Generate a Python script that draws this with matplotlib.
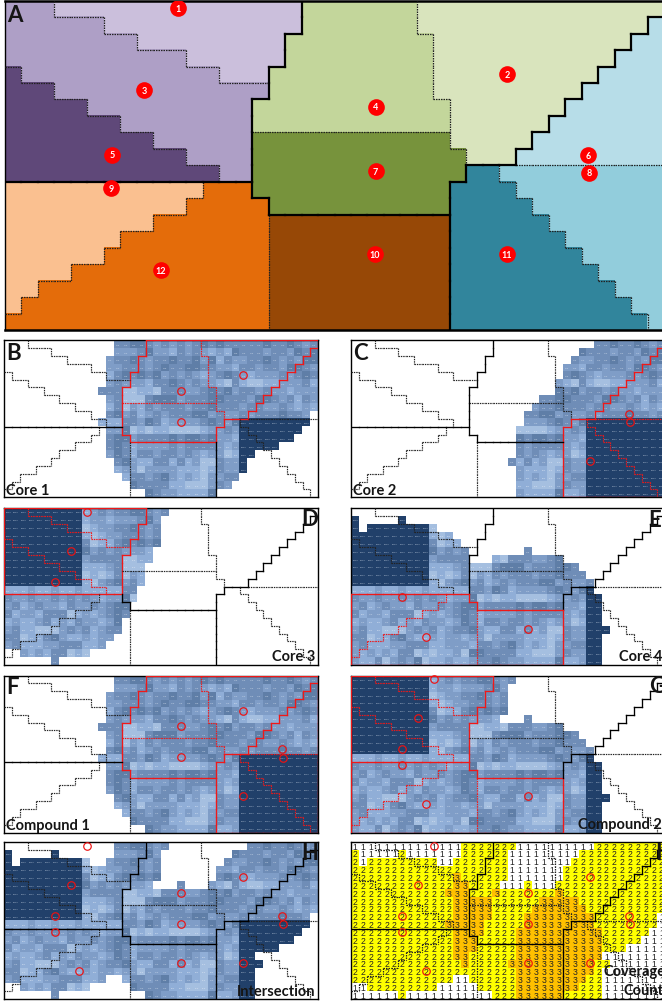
import numpy as np
import matplotlib
matplotlib.use('Agg')
import matplotlib.pyplot as plt
from matplotlib.collections import LineCollection
from matplotlib.colors import ListedColormap

plt.rcParams['font.family'] = ['Lato', 'DejaVu Sans']

W, H = 662, 1004
NCOL, NROW = 40, 20

# DATA
# zone map, one list per row: (zone, column where the zone stops)
ZONE_RUNS = [
    [(3, 3), (1, 18), (4, 25), (2, 40)],
    [(3, 6), (1, 18), (4, 25), (2, 39), (6, 40)],
    [(3, 8), (1, 17), (4, 26), (2, 38), (6, 40)],
    [(3, 11), (1, 17), (4, 26), (2, 37), (6, 40)],
    [(5, 1), (3, 13), (1, 16), (4, 26), (2, 36), (6, 40)],
    [(5, 3), (3, 16), (4, 26), (2, 35), (6, 40)],
    [(5, 5), (3, 15), (4, 27), (2, 34), (6, 40)],
    [(5, 7), (3, 15), (4, 27), (2, 33), (6, 40)],
    [(5, 9), (3, 15), (7, 27), (2, 32), (6, 40)],
    [(5, 11), (3, 15), (7, 28), (2, 31), (6, 40)],
    [(5, 13), (3, 15), (7, 28), (11, 30), (8, 40)],
    [(9, 12), (12, 15), (7, 27), (11, 31), (8, 40)],
    [(9, 11), (12, 16), (7, 27), (11, 32), (8, 40)],
    [(9, 9), (12, 16), (10, 27), (11, 33), (8, 40)],
    [(9, 7), (12, 16), (10, 27), (11, 34), (8, 40)],
    [(9, 6), (12, 16), (10, 27), (11, 35), (8, 40)],
    [(9, 4), (12, 16), (10, 27), (11, 36), (8, 40)],
    [(9, 2), (12, 16), (10, 27), (11, 37), (8, 40)],
    [(9, 1), (12, 16), (10, 27), (11, 38), (8, 40)],
    [(12, 16), (10, 27), (11, 39), (8, 40)],
]
ZONE_COLORS = ['#ffffff', '#cbbfdc', '#d9e4bd', '#ae9fc6', '#c3d69b', '#5f4879', '#b7dde8',
               '#77933c', '#92cddc', '#fac090', '#974806', '#31859c', '#e46c0a']
ZONE_X = [10.49, 30.46, 8.46, 22.49, 6.49, 35.40, 22.49, 35.46, 6.44, 22.46, 30.46, 9.46]
ZONE_Y = [0.46, 4.48, 5.45, 6.44, 9.37, 9.39, 10.36, 10.46, 11.39, 15.39, 15.39, 16.38]
# boundaries drawn dotted in the maps, all the others are solid
DOTTED_PAIRS = [(1, 3), (3, 5), (2, 4), (4, 7), (2, 7), (6, 8), (8, 11), (9, 12), (10, 12)]

# cell levels, 0 lightest, 5 darkest, 9 the navy cells
LEVELS = [
    '9999999999123233443232323434333334334323',
    '9999999999122122234221323212143332332434',
    '9999999999012233432334334241322334323244',
    '9999999999101223332343344332213323324432',
    '9999999999301134343423232123432122232343',
    '9999999999423232221334323221031001122231',
    '9999999999233330011033322343423323221222',
    '9999999999111230003444233344333244323132',
    '9999999999010130213233323343332332232121',
    '9999999999102342312323334423223233343323',
    '1112112112111113324312222343249999999999',
    '3223223232321224010110000122329999999999',
    '2312322132232344233334344342219999999999',
    '3122133301212343122223233332129999999999',
    '1211231213221243133233232122019999999999',
    '2311000232312334211331312003229999999999',
    '3301134211212212202222111013229999999999',
    '2311122333112221332342121022339999999999',
    '2121213301011204433331100023229999999999',
    '2113023240112112334322111141129999999999',
]
LEVEL_COLORS = ['#a5bfe0', '#90aed7', '#7f9dc7', '#6f8db7', '#5f7ea7', '#4f6f97']
NAVY = '#21406a'
LEVEL_VALUES = {'0': 71.8, '1': 73.5, '2': 75.2, '3': 76.9, '4': 78.3, '5': 79.6, '9': 205.4}

# covered cells of each core, one list per row: (first column, stop column)
CORE1 = [[(14, 40)], [(14, 40)], [(13, 40)], [(13, 40)], [(13, 40)], [(13, 40)], [(12, 40)],
         [(13, 40)], [(13, 40)], [(13, 39)], [(12, 39)], [(13, 38)], [(13, 37)], [(13, 35)],
         [(13, 32)], [(14, 31)], [(14, 31)], [(15, 30)], [(16, 29)], [(18, 27)]]
CORE2 = [[(31, 40)], [(29, 40)], [(28, 40)], [(27, 40)], [(27, 40)], [(26, 40)], [(26, 40)],
         [(24, 40)], [(23, 40)], [(22, 40)], [(22, 40)], [(21, 40)], [(21, 40)], [(21, 40)],
         [(21, 40)], [(20, 40)], [(21, 40)], [(21, 40)], [(21, 40)], [(21, 40)]]
CORE3 = [[(0, 21)], [(0, 20)], [(0, 20)], [(0, 20)], [(0, 20)], [(0, 19)], [(0, 19)],
         [(0, 18)], [(0, 18)], [(0, 18)], [(0, 17)], [(0, 17)], [(0, 16)], [(0, 16)],
         [(0, 15)], [(0, 15)], [(0, 14)], [(0, 13)], [(2, 11)], [(6, 7)]]
CORE4 = [[], [(0, 1), (6, 7)], [(0, 1), (2, 11)], [(0, 13)], [(0, 14)], [(0, 15), (22, 23)],
         [(0, 15), (18, 27)], [(0, 29)], [(0, 30)], [(0, 31)], [(0, 31)], [(0, 32)], [(0, 32)],
         [(0, 32)], [(0, 32)], [(0, 33)], [(0, 32)], [(0, 32)], [(0, 32)], [(0, 32)]]
COUNT_COLORS = ['#ffffff', '#ffffff', '#ffff00', '#ffc000']


# CUSTOM FUNCTIONS
def px_axes(fig, x0, y0, x1, y1):
    # makes an axes from a pixel box measured from the top left of the image
    ax = fig.add_axes([x0 / W, 1 - y1 / H, (x1 - x0) / W, (y1 - y0) / H])
    ax.set_xlim(0, NCOL)
    ax.set_ylim(NROW, 0)
    ax.set_xticks([])
    ax.set_yticks([])
    ax.set_facecolor('white')
    return ax


def zone_grid():
    grid = np.zeros((NROW, NCOL), dtype=int)
    for r, runs in enumerate(ZONE_RUNS):
        start = 0
        for zone, stop in runs:
            grid[r, start:stop] = zone
            start = stop
    return grid


def core_mask(core):
    mask = np.zeros((NROW, NCOL), dtype=bool)
    for r, runs in enumerate(core):
        for start, stop in runs:
            mask[r, start:stop] = True
    return mask


def boundary_segments(grid):
    # returns every cell edge between two zones, with the two zones on its sides
    pad = np.zeros((NROW + 2, NCOL + 2), dtype=int)
    pad[1:-1, 1:-1] = grid
    segs = []
    for r in range(NROW + 1):
        for c in range(NCOL):
            a, b = pad[r, c + 1], pad[r + 1, c + 1]
            if a != b:
                segs.append(([(c, r), (c + 1, r)], a, b))
    for r in range(NROW):
        for c in range(NCOL + 1):
            a, b = pad[r + 1, c], pad[r + 1, c + 1]
            if a != b:
                segs.append(([(c, r), (c, r + 1)], a, b))
    return segs


def is_dotted(a, b):
    return (min(a, b), max(a, b)) in DOTTED_PAIRS


def draw_boundaries(ax, segs, selected, solid_lw, dot_lw):
    groups = {}
    for seg, a, b in segs:
        if (a == 0 or b == 0) and not (a in selected or b in selected):
            continue
        red = a in selected or b in selected
        key = (red, is_dotted(a, b))
        groups.setdefault(key, []).append(seg)
    for (red, dotted), lines in groups.items():
        color = '#f01818' if red else ('#222222' if dotted else 'black')
        if dotted:
            lc = LineCollection(lines, colors=color, linewidths=dot_lw, linestyles=[(0, (1.2, 0.8))], zorder=3)
        else:
            lc = LineCollection(lines, colors=color, linewidths=solid_lw, capstyle='projecting', zorder=3)
        ax.add_collection(lc)


def draw_heat(ax, mask):
    cmap = ListedColormap(LEVEL_COLORS + [NAVY])
    cells = np.array([[min(int(ch), 6) for ch in row] for row in LEVELS])
    ax.imshow(np.ma.masked_where(~mask, cells), cmap=cmap, vmin=-0.5, vmax=6.5, extent=(0, NCOL, NROW, 0),
              aspect='auto', interpolation='nearest', zorder=1)
    for r in range(NROW):
        for c in range(NCOL):
            if mask[r, c]:
                ax.text(c + 0.5, r + 0.5, '%.1f' % LEVEL_VALUES[LEVELS[r][c]], color='#dfe8f4', fontsize=1.5,
                        ha='center', va='center', zorder=2)


def draw_circles(ax, zones):
    xs = [ZONE_X[z - 1] for z in zones]
    ys = [ZONE_Y[z - 1] for z in zones]
    ax.plot(xs, ys, 'o', ms=5.4, mfc='none', mec='#ee1111', mew=0.85, zorder=5, clip_on=False)


def frame(ax, lw=1.0):
    for side in ax.spines.values():
        side.set_linewidth(lw)
        side.set_color('black')
        side.set_zorder(2.5)


def label(fig, x, y, text, size, ha='left'):
    fig.text(x / W, 1 - y / H, text, fontsize=size, fontweight='bold', ha=ha, va='center', color='#151515', zorder=10)


# MAIN
grid = zone_grid()
segs = boundary_segments(grid)
core1, core2, core3, core4 = core_mask(CORE1), core_mask(CORE2), core_mask(CORE3), core_mask(CORE4)
count = core1.astype(int) + core2.astype(int) + core3.astype(int) + core4.astype(int)
all_zones = list(range(1, 13))

fig = plt.figure(figsize=(W / 100, H / 100), dpi=100)

# panel A, the zone map
ax = px_axes(fig, 5, 1.7, 664, 331)
ax.imshow(grid, cmap=ListedColormap(ZONE_COLORS), vmin=-0.5, vmax=12.5, extent=(0, NCOL, NROW, 0),
          aspect='auto', interpolation='nearest', zorder=1)
draw_boundaries(ax, segs, [], 1.6, 0.9)
frame(ax, 1.0)
ax.spines['top'].set_linewidth(1.8)
ax.spines['bottom'].set_linewidth(1.8)
ax.plot(ZONE_X, ZONE_Y, 'o', ms=12, mfc='#ff0000', mec='none', zorder=5)
for z in all_zones:
    ax.text(ZONE_X[z - 1], ZONE_Y[z - 1], str(z), color='white', fontsize=6.5, fontweight='bold',
            ha='center', va='center', zorder=6)

# panels B to H, heat maps
panels = [
    (4.3, 341.3, core1, [2, 4, 7], [2, 4, 7]),
    (351.3, 341.3, core2, [6, 8, 11], [6, 8, 11]),
    (4.3, 509, core3, [1, 3, 5], [1, 3, 5]),
    (351.3, 509, core4, [9, 10, 12], [9, 10, 12]),
    (4.3, 676.5, core1 | core2, [2, 4, 7, 6, 8, 11], [2, 4, 7, 6, 8, 11]),
    (351.3, 676.5, core3 | core4, [1, 3, 5, 9, 10, 12], [1, 3, 5, 9, 10, 12]),
    (4.3, 843.2, count >= 2, [], all_zones),
]
for x0, y0, mask, selected, circles in panels:
    ax = px_axes(fig, x0, y0, x0 + 314, y0 + 157)
    draw_heat(ax, mask)
    draw_boundaries(ax, segs, selected, 0.95, 0.85)
    draw_circles(ax, circles)
    frame(ax)

# panel I, coverage count
ax = px_axes(fig, 351.3, 843.2, 665.3, 1000.2)
ax.imshow(count, cmap=ListedColormap(COUNT_COLORS), vmin=-0.5, vmax=3.5, extent=(0, NCOL, NROW, 0),
          aspect='auto', interpolation='nearest', zorder=1)
for r in range(NROW):
    for c in range(NCOL):
        ax.text(c + 0.5, r + 0.5, str(count[r, c]), color='#222222', fontsize=6.2, ha='center', va='center',
                family='Liberation Sans', zorder=2)
draw_boundaries(ax, segs, [], 0.95, 0.9)
draw_circles(ax, all_zones)
frame(ax)

# letters and captions
label(fig, 7.5, 15.7, 'A', 16)
label(fig, 6.2, 354, 'B', 16)
label(fig, 352.7, 354, 'C', 16)
label(fig, 318, 520, 'D', 16, ha='right')
label(fig, 661, 520.7, 'E', 16, ha='right')
label(fig, 6.2, 687.7, 'F', 16)
label(fig, 649, 687, 'G', 16)
label(fig, 318, 853.7, 'H', 16, ha='right')
label(fig, 655, 853.7, 'I', 16)
label(fig, 6, 491, 'Core 1', 10.5)
label(fig, 352.7, 491, 'Core 2', 10.5)
label(fig, 315, 657, 'Core 3', 10.5, ha='right')
label(fig, 662, 657, 'Core 4', 10.5, ha='right')
label(fig, 6, 826, 'Compound 1', 10.5)
label(fig, 662, 825, 'Compound 2', 10.5, ha='right')
label(fig, 315, 992, 'Intersection', 10.5, ha='right')
label(fig, 603, 972, 'Coverage', 10.5)
label(fig, 623, 991, 'Count', 10.5)

plt.savefig('out.png', dpi=100)
